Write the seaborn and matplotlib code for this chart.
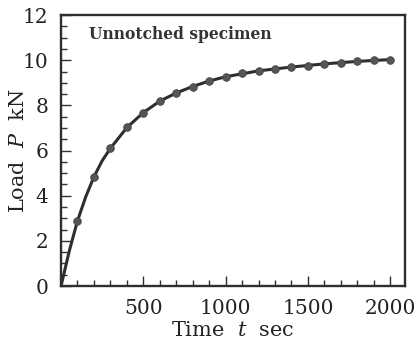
import numpy as np
import pandas as pd
import matplotlib
matplotlib.use("Agg")
import matplotlib.pyplot as plt
from matplotlib.ticker import MultipleLocator, FixedLocator
import seaborn as sns

# measured points (t in sec, P in kN)
time_pts = [100, 200, 300, 400, 500, 600, 700, 800, 900, 1000,
            1100, 1200, 1300, 1400, 1500, 1600, 1700, 1800, 1900, 2000]
load_pts = [2.89, 4.84, 6.10, 7.06, 7.68, 8.19, 8.53, 8.81, 9.09, 9.25,
            9.42, 9.52, 9.61, 9.68, 9.76, 9.85, 9.90, 9.96, 9.99, 10.01]

# fitted curve
curve_t = [0, 50, 100, 150, 200, 250, 300, 400, 500, 600, 700, 800, 900, 1000,
           1200, 1400, 1600, 1800, 2000]
curve_p = [0.0, 1.55, 2.89, 3.95, 4.84, 5.55, 6.10, 7.02, 7.68, 8.19, 8.55, 8.84,
           9.08, 9.27, 9.53, 9.70, 9.84, 9.95, 10.03]

x_ticks = [500, 1000, 1500, 2000]
y_ticks = [0, 2, 4, 6, 8, 10, 12]

sns.set_theme(style="ticks")
plt.rcParams["font.family"] = ["DejaVu Serif"]
plt.rcParams["mathtext.fontset"] = "dejavuserif"

ink = "#2e2e2e"
fig = plt.figure(figsize=(4.18, 3.43), dpi=100)
ax = fig.add_axes([0.146, 0.166, 0.823, 0.790])

curve = pd.DataFrame({"t": curve_t, "P": curve_p})
pts = pd.DataFrame({"t": time_pts, "P": load_pts})
sns.lineplot(data=curve, x="t", y="P", ax=ax, color=ink, linewidth=2.2)
sns.scatterplot(data=pts, x="t", y="P", ax=ax, color="#555555", s=30,
                edgecolor="#444444", linewidth=0.6, zorder=3)

ax.set_xlim(0, 2090)
ax.set_ylim(0, 12)
ax.xaxis.set_major_locator(FixedLocator(x_ticks))
ax.xaxis.set_minor_locator(MultipleLocator(100))
ax.yaxis.set_major_locator(FixedLocator(y_ticks))
ax.yaxis.set_minor_locator(MultipleLocator(0.5))
ax.tick_params(which="both", direction="in", colors=ink, labelcolor="#222222")
ax.tick_params(which="major", length=7, width=1.0, labelsize=14.5, pad=9)
ax.tick_params(which="minor", length=4, width=1.0)

for sp in ax.spines.values():
    sp.set_visible(True)
    sp.set_linewidth(1.7)
    sp.set_color(ink)

ax.set_xlabel("Time  $t$  sec", fontsize=15, color="#222222")
ax.set_ylabel("Load  $P$  kN", fontsize=15, color="#222222")
ax.xaxis.set_label_coords(0.5, -0.128)
ax.yaxis.set_label_coords(-0.097, 0.5)
ax.text(0.08, 0.93, "Unnotched specimen", transform=ax.transAxes,
        fontsize=11.2, fontweight="bold", color="#333333", va="center", ha="left")

fig.savefig("out.png", dpi=100)
